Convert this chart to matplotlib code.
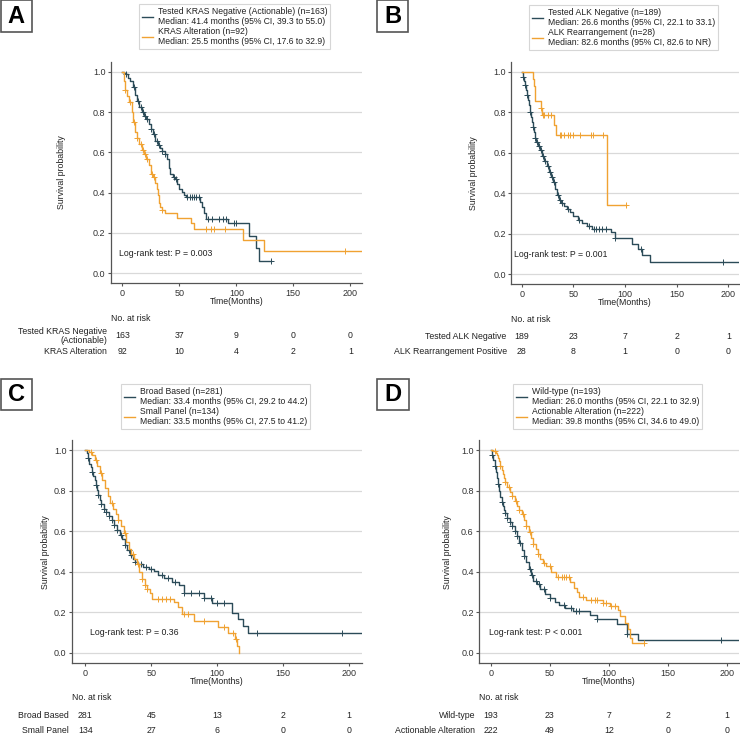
import numpy as np
import matplotlib.pyplot as plt
from matplotlib.lines import Line2D
from matplotlib.patches import Rectangle
from matplotlib.transforms import blended_transform_factory

plt.rcParams['font.family'] = ['Liberation Sans', 'DejaVu Sans']

TEAL = '#2b4b58'
ORANGE = '#f0a232'
TXT = '#222222'
W, H = 740, 734

risk_times = [0, 50, 100, 150, 200]

# ---- Panel A: KRAS ----
a_neg_t = [1, 3, 5, 7, 9, 11, 13, 15, 17, 19, 21, 23, 25, 27, 29, 31, 33, 35, 37, 39,
           41, 42, 44, 46, 48, 50, 52, 54, 56, 68, 70, 72, 73, 93, 111, 117, 120]
a_neg_s = [0.994, 0.988, 0.97, 0.955, 0.925, 0.885, 0.855, 0.825, 0.80, 0.78, 0.765, 0.74,
           0.715, 0.69, 0.655, 0.635, 0.62, 0.605, 0.59, 0.565, 0.52, 0.495, 0.48, 0.47,
           0.445, 0.42, 0.405, 0.39, 0.38, 0.355, 0.33, 0.30, 0.27, 0.248, 0.183, 0.125, 0.062]
a_neg_end = 130
a_neg_cens = [3, 10, 14, 16, 18, 20, 22, 25, 28, 30, 32, 35, 37, 45, 47, 57, 59, 61, 63, 65,
              67, 75, 79, 85, 88, 91, 98, 100, 130]
a_alt_t = [1, 2, 4, 6, 8, 9, 11, 13, 15, 17, 19, 21, 23, 25, 27, 29, 30, 31, 32, 33, 35, 37,
           48, 60, 63, 106, 124]
a_alt_s = [0.955, 0.91, 0.88, 0.85, 0.80, 0.75, 0.70, 0.67, 0.64, 0.61, 0.59, 0.565, 0.535,
           0.495, 0.48, 0.45, 0.42, 0.39, 0.35, 0.33, 0.315, 0.30, 0.273, 0.248, 0.222, 0.166, 0.112]
a_alt_end = 215
a_alt_cens = [2, 7, 10, 13, 16, 18, 20, 22, 26, 28, 35, 73, 78, 80, 90, 195]
a_labels = ['Tested KRAS Negative (Actionable) (n=163)\nMedian: 41.4 months (95% CI, 39.3 to 55.0)',
            'KRAS Alteration (n=92)\nMedian: 25.5 months (95% CI, 17.6 to 32.9)']
a_rows = ['Tested KRAS Negative\n(Actionable)', 'KRAS Alteration']
a_risk = [[163, 37, 9, 0, 0], [92, 10, 4, 2, 1]]
a_p = 'Log-rank test: P = 0.003'

# ---- Panel B: ALK ----
b_neg_t = [1, 2, 3, 4, 5, 6, 7, 8, 9, 10, 11, 12, 13, 14, 16, 18, 20, 22, 24, 26, 28, 30, 32,
           34, 36, 38, 41, 44, 47, 50, 54, 58, 63, 68, 86, 90, 107, 113, 116, 124]
b_neg_s = [0.975, 0.955, 0.935, 0.91, 0.885, 0.86, 0.835, 0.80, 0.775, 0.75, 0.725, 0.70,
           0.675, 0.655, 0.635, 0.615, 0.585, 0.56, 0.535, 0.505, 0.48, 0.455, 0.42, 0.39,
           0.365, 0.35, 0.335, 0.32, 0.305, 0.29, 0.27, 0.255, 0.24, 0.225, 0.21, 0.178, 0.15,
           0.125, 0.095, 0.062]
b_neg_end = 215
b_neg_cens = [1, 3, 5, 8, 11, 13, 15, 17, 19, 21, 23, 25, 27, 29, 31, 35, 37, 39, 45, 55, 65,
              70, 72, 75, 78, 82, 90, 115, 195]
b_alk_t = [11.3, 12, 13, 18.5, 20, 31, 33, 82.6]
b_alk_s = [0.964, 0.929, 0.857, 0.821, 0.786, 0.737, 0.688, 0.344]
b_alk_end = 101
b_alk_cens = [19, 21, 22, 25, 28, 36.6, 38, 41, 44.7, 47, 49.5, 56, 67, 69, 78.5, 101]
b_labels = ['Tested ALK Negative (n=189)\nMedian: 26.6 months (95% CI, 22.1 to 33.1)',
            'ALK Rearrangement (n=28)\nMedian: 82.6 months (95% CI, 82.6 to NR)']
b_rows = ['Tested ALK Negative', 'ALK Rearrangement Positive']
b_risk = [[189, 23, 7, 2, 1], [28, 8, 1, 0, 0]]
b_p = 'Log-rank test: P = 0.001'

# ---- Panel C: panel type ----
c_broad_t = [1, 2, 3, 4, 5, 6, 7, 8, 9, 10, 11, 12, 14, 16, 18, 20, 22, 24, 26, 28, 30, 32,
             34, 36, 38, 40, 44, 48, 52, 55, 60, 66, 71, 75, 90, 96, 111, 116, 120, 123.7]
c_broad_s = [0.985, 0.96, 0.935, 0.92, 0.895, 0.875, 0.855, 0.83, 0.805, 0.78, 0.755, 0.735,
             0.71, 0.695, 0.675, 0.655, 0.63, 0.605, 0.58, 0.56, 0.535, 0.51, 0.485, 0.465,
             0.45, 0.44, 0.425, 0.415, 0.405, 0.385, 0.368, 0.352, 0.335, 0.298, 0.27, 0.245,
             0.199, 0.166, 0.133, 0.099]
c_broad_end = 215
c_broad_cens = [2, 5, 8, 10, 12, 14, 16, 18, 20, 22, 24, 27, 30, 33, 35, 38, 42, 46, 50, 58,
                63, 68, 75, 80, 86, 90, 95, 100, 105, 130, 195]
c_small_t = [3, 5, 7, 9, 11, 13, 15, 17, 19, 21, 23, 25, 27, 29, 31, 33, 35, 37, 39, 41, 43,
             45, 47, 49, 50.6, 67, 70.5, 73, 82.7, 101, 108.5, 113.5, 115.3, 116.6]
c_small_s = [0.993, 0.978, 0.95, 0.925, 0.89, 0.855, 0.815, 0.775, 0.74, 0.71, 0.685, 0.655,
             0.625, 0.59, 0.55, 0.515, 0.49, 0.465, 0.44, 0.40, 0.365, 0.335, 0.315, 0.295,
             0.265, 0.25, 0.227, 0.19, 0.156, 0.128, 0.099, 0.07, 0.033, 0.0]
c_small_end = 116.6
c_small_cens = [4, 8, 12, 20, 25, 30, 36, 40, 43, 45, 47, 55, 58, 61, 64, 75, 78, 90, 105,
                112, 114]
c_labels = ['Broad Based (n=281)\nMedian: 33.4 months (95% CI, 29.2 to 44.2)',
            'Small Panel (n=134)\nMedian: 33.5 months (95% CI, 27.5 to 41.2)']
c_rows = ['Broad Based', 'Small Panel']
c_risk = [[281, 45, 13, 2, 1], [134, 27, 6, 0, 0]]
c_p = 'Log-rank test: P = 0.36'

# ---- Panel D: actionable ----
d_wt_t = [1, 2, 3, 4, 5, 6, 7, 8, 9, 10, 11, 12, 14, 16, 18, 20, 22, 24, 26, 28, 30, 32, 34,
          36, 39, 42, 46, 50, 54, 58, 63, 70, 84, 90, 106.6, 115, 124.5]
d_wt_s = [0.975, 0.95, 0.925, 0.895, 0.865, 0.835, 0.80, 0.77, 0.745, 0.725, 0.705, 0.69,
          0.665, 0.645, 0.625, 0.60, 0.575, 0.545, 0.51, 0.48, 0.45, 0.415, 0.385, 0.355,
          0.34, 0.315, 0.29, 0.27, 0.25, 0.235, 0.22, 0.208, 0.187, 0.166, 0.145, 0.095, 0.062]
d_wt_end = 215
d_wt_cens = [1, 3, 6, 9, 12, 14, 16, 18, 20, 22, 25, 28, 33, 35, 38, 41, 45, 50, 62, 68, 72,
             75, 90, 115, 195]
d_act_t = [2, 4, 5, 6, 7, 8, 9, 10, 11, 12, 14, 16, 18, 20, 22, 24, 26, 28, 30, 32, 34, 36,
           38, 40, 42, 44, 47, 51, 55, 67, 70.4, 72.7, 75, 81, 95, 101, 108, 109.5, 113.7,
           116.5, 118, 119.4]
d_act_s = [0.995, 0.985, 0.975, 0.96, 0.945, 0.925, 0.905, 0.885, 0.865, 0.845, 0.82, 0.795,
           0.775, 0.75, 0.725, 0.705, 0.685, 0.655, 0.625, 0.595, 0.565, 0.54, 0.515, 0.49,
           0.465, 0.445, 0.43, 0.40, 0.375, 0.35, 0.32, 0.30, 0.278, 0.26, 0.245, 0.23, 0.21,
           0.18, 0.15, 0.12, 0.075, 0.05]
d_act_end = 130
d_act_cens = [3, 8, 12, 15, 18, 21, 24, 27, 30, 33, 36, 40, 45, 50, 57, 60, 62, 64, 66, 78,
              85, 88, 90, 95, 98, 102, 105, 130]
d_labels = ['Wild-type (n=193)\nMedian: 26.0 months (95% CI, 22.1 to 32.9)',
            'Actionable Alteration (n=222)\nMedian: 39.8 months (95% CI, 34.6 to 49.0)']
d_rows = ['Wild-type', 'Actionable Alteration']
d_risk = [[193, 23, 7, 2, 1], [222, 49, 12, 0, 0]]
d_p = 'Log-rank test: P < 0.001'


def fx(x):
    return x / W


def fy(y):
    return 1 - y / H


def draw_curve(ax, t, s, end, cens, color):
    t = np.asarray(t, float)
    s = np.asarray(s, float)
    ax.step(np.r_[0, t, end], np.r_[1.0, s, s[-1]], where='post', color=color, lw=1.0)
    idx = np.searchsorted(t, cens, side='right')
    cy = np.where(idx == 0, 1.0, s[np.maximum(idx - 1, 0)])
    ax.plot(cens, cy, ls='none', marker='+', color=color, ms=4, mew=0.7)


def draw_panel(fig, letter, box, rect, curves, labels, rows, risk, ptxt, px,
               legend_xy, ylab_x, xlab_y, risk_y, row_x):
    l, r, t, b = rect
    ax = fig.add_axes([fx(l), fy(b), fx(r - l), (b - t) / H])
    for (ct, cs, ce, cc), col in zip(curves, [TEAL, ORANGE]):
        draw_curve(ax, ct, cs, ce, cc, col)
    ax.set_xlim(-10, 210)
    ax.set_ylim(-0.05, 1.05)
    ax.set_xticks([0, 50, 100, 150, 200])
    ax.set_yticks([0, 0.2, 0.4, 0.6, 0.8, 1.0])
    ax.set_yticklabels(['0.0', '0.2', '0.4', '0.6', '0.8', '1.0'])
    ax.grid(axis='y', color='#d9d9d9', lw=0.9)
    ax.set_axisbelow(True)
    for sp in ['top', 'right']:
        ax.spines[sp].set_visible(False)
    for sp in ['left', 'bottom']:
        ax.spines[sp].set_color('#555555')
        ax.spines[sp].set_linewidth(0.9)
    ax.tick_params(length=2.5, width=0.8, color='#555555', pad=1.5,
                   labelsize=6.5, labelcolor='#333333')
    ax.text(px, 0.1, ptxt, fontsize=6.3, color=TXT, ha='left', va='center')

    handles = [Line2D([], [], color=TEAL, lw=1.0), Line2D([], [], color=ORANGE, lw=1.0)]
    leg = ax.legend(handles, labels, loc='upper left', bbox_to_anchor=legend_xy,
                    bbox_transform=fig.transFigure, fontsize=6.2, frameon=True,
                    fancybox=False, edgecolor='#cccccc', handlelength=1.3,
                    handletextpad=0.5, labelspacing=0.05, borderpad=0.35,
                    borderaxespad=0)
    leg.get_frame().set_linewidth(0.8)
    for txt in leg.get_texts():
        txt.set_color(TXT)

    fig.text(fx(ylab_x), fy((t + b) / 2), 'Survival probability', rotation=90,
             ha='center', va='center', fontsize=6.3, color=TXT)
    fig.text(fx((l + r) / 2), fy(xlab_y), 'Time(Months)', ha='center', va='center',
             fontsize=6.3, color=TXT)

    # risk table
    trans = blended_transform_factory(ax.transData, fig.transFigure)
    fig.text(fx(l), fy(risk_y[0]), 'No. at risk', ha='left', va='center', fontsize=6.3,
             color=TXT)
    for i, (name, vals) in enumerate(zip(rows, risk)):
        yy = fy(risk_y[i + 1])
        fig.text(fx(row_x), yy, name, ha='right', va='center', fontsize=6.3, color=TXT,
                 multialignment='right', linespacing=1.0)
        for tm, v in zip(risk_times, vals):
            ax.text(tm, yy, str(v), transform=trans, ha='center', va='center',
                    fontsize=6.3, color=TXT)

    # panel letter
    bx0, by0, bx1, by1 = box
    fig.patches.append(Rectangle((fx(bx0), fy(by1)), fx(bx1 - bx0), (by1 - by0) / H,
                                 transform=fig.transFigure, fill=False,
                                 edgecolor='#555555', lw=1.2))
    fig.text(fx((bx0 + bx1) / 2), fy((by0 + by1) / 2), letter, ha='center', va='center',
             fontsize=17, fontweight='bold', color='black')
    return ax


fig = plt.figure(figsize=(W / 100, H / 100), dpi=100)
fig.patch.set_facecolor('white')

draw_panel(fig, 'A', (0.5, 0.5, 32, 32), (111, 361.7, 61.7, 283.3),
           [(a_neg_t, a_neg_s, a_neg_end, a_neg_cens), (a_alt_t, a_alt_s, a_alt_end, a_alt_cens)],
           a_labels, a_rows, a_risk, a_p, -3,
           (fx(139), fy(4)), 62, 302, (319, 336, 351), 107)
draw_panel(fig, 'B', (377, 0.5, 408, 32), (511.4, 738.7, 61.6, 284.4),
           [(b_neg_t, b_neg_s, b_neg_end, b_neg_cens), (b_alk_t, b_alk_s, b_alk_end, b_alk_cens)],
           b_labels, b_rows, b_risk, b_p, -7.5,
           (fx(529), fy(5)), 474, 302.7, (320, 336.7, 351.7), 506.7)
draw_panel(fig, 'C', (0.5, 379, 32, 410), (72.1, 362.1, 440.2, 663.1),
           [(c_broad_t, c_broad_s, c_broad_end, c_broad_cens),
            (c_small_t, c_small_s, c_small_end, c_small_cens)],
           c_labels, c_rows, c_risk, c_p, 3.6,
           (fx(121), fy(384)), 46, 681, (698, 715.3, 730.3), 68.3)
draw_panel(fig, 'D', (377, 379, 409, 410), (479.2, 738.5, 440.2, 663.1),
           [(d_wt_t, d_wt_s, d_wt_end, d_wt_cens), (d_act_t, d_act_s, d_act_end, d_act_cens)],
           d_labels, d_rows, d_risk, d_p, -2,
           (fx(513), fy(384)), 448, 681, (698, 715.3, 730.3), 475)

fig.savefig('out.png', dpi=100, facecolor='white')
